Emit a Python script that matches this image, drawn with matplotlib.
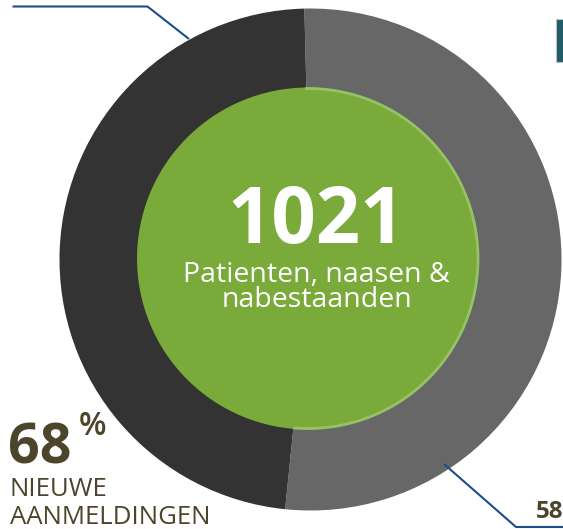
import matplotlib
matplotlib.use("Agg")
import matplotlib.pyplot as plt
from matplotlib.patches import Circle, Arc, Rectangle

# share of the ring (grey = right half, dark = left half)
shares = [52, 48]
ring_colors = ["#676767", "#333333"]

total_label = "1021"
total_caption = ["Patienten, naasen &", "nabestaanden"]
left_value = "68"
left_unit = "%"
left_caption = ["NIEUWE", "AANMELDINGEN"]
right_value = "58"

W, H = 563, 529
TEXT = "#4c452c"
LINE = "#1d4c8a"
FONT = ["Open Sans", "DejaVu Sans"]

fig = plt.figure(figsize=(W / 100, H / 100), dpi=100)
ax = fig.add_axes([0, 0, 1, 1])

cx, cy = 310.5, H - 259.5
ax.pie(shares, colors=ring_colors, startangle=-95.8, counterclock=True,
       center=(cx, cy), radius=251, frame=True,
       wedgeprops=dict(linewidth=0))

# green centre disc with a light rim on the grey side
gx, gy, gr = 308, H - 258.5, 171
ax.add_patch(Circle((gx, gy), gr, color="#7aaa39", lw=0, zorder=3))
ax.add_patch(Arc((gx, gy), 2 * gr - 2, 2 * gr - 2, theta1=-95, theta2=91,
                 color="#96c266", lw=2.0, zorder=4))

ax.text(316, H - 243, total_label, ha="center", va="baseline", color="white",
        fontsize=56, fontweight="bold", family=FONT, zorder=5)
# baseline of a two-line text is the baseline of its last line
ax.text(316.5, H - 307, "\n".join(total_caption), ha="center", va="baseline",
        multialignment="center", linespacing=0.88, color="white",
        fontsize=20.5, family=FONT, zorder=5)

# leader lines
ax.plot([12.5, 147.5, 189], [H - 6.5, H - 6.5, H - 39], color=LINE, lw=1.5,
        solid_capstyle="butt", zorder=6)
ax.plot([444, 516, 563], [H - 464, H - 527, H - 527], color=LINE, lw=1.5,
        solid_capstyle="butt", zorder=6)

# left annotation
ax.text(8, H - 463, left_value, ha="left", va="baseline", color=TEXT,
        fontsize=40, fontweight="bold", family=FONT)
ax.text(79, H - 435, left_unit, ha="left", va="baseline", color=TEXT,
        fontsize=23, fontweight="semibold", family=FONT)
ax.text(10, H - 496, left_caption[0], ha="left", va="baseline", color=TEXT,
        fontsize=18.5, family=FONT)
ax.text(10, H - 524, left_caption[1], ha="left", va="baseline", color=TEXT,
        fontsize=18.5, family=FONT)

# right annotation (cut at the edge)
ax.text(536, H - 518, right_value, ha="left", va="baseline", color=TEXT,
        fontsize=17.5, fontweight="bold", family=FONT)

# piece of a heading block at the top right
ax.add_patch(Rectangle((556, H - 62), 12, 43, facecolor="#235b68",
                       edgecolor="#b8c4c6", lw=0.8))

ax.set_xlim(0, W)
ax.set_ylim(0, H)
ax.set_aspect("equal")
ax.axis("off")

fig.savefig("out.png", dpi=100)
